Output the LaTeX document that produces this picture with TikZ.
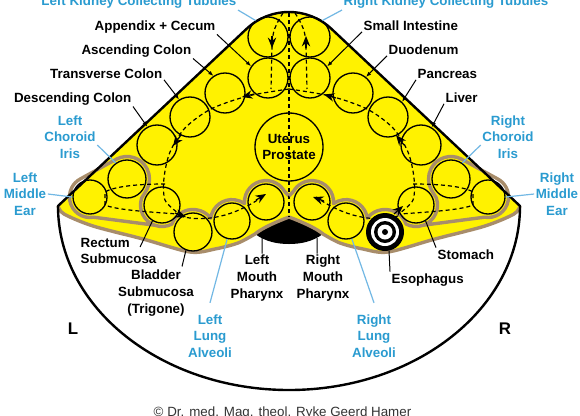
\documentclass[tikz,border=0pt]{standalone}
\usepackage{fontspec}
\setmainfont{Liberation Sans}
\usetikzlibrary{arrows.meta}
\definecolor{organyellow}{HTML}{FFF200}
\definecolor{ectotan}{HTML}{A88D6B}
\definecolor{tagblue}{HTML}{2A9BD0}
\definecolor{tagline}{HTML}{72B8E4}
\newcommand\ectochain{(154.65,225.2) -- (93.56,217.19) arc[start angle=80,end angle=243,radius=20.5]
 -- (116.79,158.95) arc[start angle=243,end angle=390,radius=22.5]
 -- (141.8,197.65) arc[start angle=200,end angle=62.6,radius=21.5]
 arc[start angle=200.5,end angle=322,radius=22.5]
 arc[start angle=188,end angle=305.5,radius=21.5]
 arc[start angle=176,end angle=330,radius=21.5] -- (289,196)}
\newcommand\gutline{(283,13) .. controls (276,24) and (272,32) .. (272,46) -- (271,89)
 plot[smooth] coordinates {(289,89) (248,96) (211,109) (185,128) (170,152) (164,178) (165,200) (178,213)}
 (165,184) .. controls (140,184) and (115,186) .. (105,192) -- (105,205) .. controls (116,210) and (150,212) .. (178,214)
 (180,216) .. controls (205,223) and (235,216) .. (262,197)}
\begin{document}
\begin{tikzpicture}[x=0.25mm,y=-0.25mm,
 organ/.style={circle,draw,line width=0.33mm,inner sep=0pt,minimum size=#1},
 ring/.style={circle,inner sep=0pt,minimum size=#1},
 tag/.style={font=\fontsize{9.5}{11.8}\selectfont\bfseries,inner sep=1pt},
 bluetag/.style={tag,text=tagblue,align=center},
 arr/.style={-{Latex[length=1.3mm,width=1mm]},line width=0.25mm},
 ptr/.style={line width=0.25mm},
 bptr/.style={draw=tagline,line width=0.3mm},
 ecto/.style={draw=ectotan,line width=0.85mm,line join=round},
 gut/.style={line width=0.3mm,dash pattern=on 1mm off 0.75mm},
 tip/.style={-{Stealth[length=2.6mm,width=2.1mm]},line width=0.3mm}]
\useasboundingbox (0,0) rectangle (580,415);
\fill[white] (0,0) rectangle (580,415);
\fill[organyellow] (58,206) -- (246.7,28.7) .. controls (270.5,6.4) and (307.5,6.4) .. (331.3,28.7) -- (520,206)
 -- plot[smooth] coordinates {(520,206) (514,214) (485,226) (435,239) (388,252) (363,249) (340,243) (323,234)}
 .. controls (316,228) and (302,222) .. (289,217) .. controls (276,222) and (262,228) .. (255,234)
 -- plot[smooth] coordinates {(255,234) (238,243) (215,249) (190,252) (143,239) (93,226) (64,214) (58,206)} -- cycle;
\fill (255,234) .. controls (262,228) and (276,222) .. (289,217) .. controls (302,222) and (316,228) .. (323,234)
 .. controls (312,242) and (300,244) .. (289,244) .. controls (278,244) and (266,242) .. (255,234) -- cycle;
\draw[ecto] plot[smooth] coordinates {(58,206) (64,214) (93,226) (143,239) (190,252) (215,249) (238,243) (255,234)}
 .. controls (262,228) and (276,222) .. (289,217) .. controls (302,222) and (316,228) .. (323,234)
 -- plot[smooth] coordinates {(323,234) (340,243) (363,249) (388,252) (435,239) (485,226) (514,214) (520,206)};
\draw[ecto] \ectochain;
\draw[gut] (289,13) -- (289,217);
\draw[gut] \gutline;
\begin{scope}[shift={(578,0)},xscale=-1]
\draw[ecto] \ectochain;
\draw[gut] \gutline;
\end{scope}
\node[organ=10mm] (ktl) at (268,37) {};
\node[organ=10mm] (ktr) at (310,37) {};
\node[organ=10mm] (app) at (268,78) {};
\node[organ=10mm] (sint) at (310,78) {};
\node[organ=10mm] (asc) at (225,93) {};
\node[organ=10mm] (duo) at (353,93) {};
\node[organ=10mm] (trans) at (190,117) {};
\node[organ=10mm] (panc) at (388,117) {};
\node[organ=10mm] (desc) at (157,145) {};
\node[organ=10mm] (liver) at (421,145) {};
\node[organ=17mm,tag,align=center] (uterus) at (289,147) {Uterus\\Prostate};
\node[organ=9.5mm] (lchor) at (127,179) {};
\node[organ=9.5mm] (rchor) at (451,179) {};
\node[organ=8.5mm] (lear) at (90,197) {};
\node[organ=8.5mm] (rear) at (488,197) {};
\node[organ=9mm] (rect) at (162,205) {};
\node[organ=9mm] (stom) at (416,205) {};
\node[organ=9.5mm] (blad) at (193,232) {};
\node[organ=9mm] (llung) at (232,221) {};
\node[organ=9mm] (rlung) at (346,221) {};
\node[organ=9mm] (lmouth) at (266,202) {};
\node[organ=9mm] (rmouth) at (312,202) {};
\node[ring=9.5mm,fill=black] (eso) at (385,232) {};
\node[ring=7mm,fill=white] (eso2) at (385,232) {};
\node[ring=5.5mm,fill=black] (eso3) at (385,232) {};
\node[ring=3.75mm,fill=white] (eso4) at (385,232) {};
\node[ring=1.5mm,fill=black] (eso5) at (385,232) {};
\draw[line width=0.6mm,line join=round] (58,206) -- (246.7,28.7) .. controls (270.5,6.4) and (307.5,6.4) .. (331.3,28.7) -- (520,206)
 arc[start angle=0,end angle=180,x radius=231,y radius=184] -- cycle;
\draw[tip] (272,36) -- (272,48);
\draw[tip] (306,48) -- (306,36);
\draw[tip] (254,94) -- (242,97);
\draw[tip] (336,98) -- (324,94.5);
\draw[tip] (181,135) -- (173,146);
\draw[tip] (404,145) -- (396,135);
\draw[tip] (175,213) -- (186,217);
\draw[tip] (394,214) -- (403,206);
\draw[tip] (256,200) -- (266,194);
\draw[tip] (324,201) -- (313,197);
\node[tag,anchor=base east] (lapp) at (217,30) {Appendix + Cecum};
\node[tag,anchor=base east] (lasc) at (193,54) {Ascending Colon};
\node[tag,anchor=base east] (ltrans) at (164,78) {Transverse Colon};
\node[tag,anchor=base east] (ldesc) at (133,102) {Descending Colon};
\node[tag,anchor=base west] (lsint) at (362,30) {Small Intestine};
\node[tag,anchor=base west] (lduo) at (387,54) {Duodenum};
\node[tag,anchor=base west] (lpanc) at (416,78) {Pancreas};
\node[tag,anchor=base west] (lliver) at (444,102) {Liver};
\node[bluetag,anchor=base east] (lkid) at (238,5.5) {Left Kidney Collecting Tubules};
\node[bluetag,anchor=base west] (rkid) at (342,5.5) {Right Kidney Collecting Tubules};
\node[bluetag] (lchori) at (70,137) {Left\\Choroid\\Iris};
\node[bluetag] (rchori) at (508,137) {Right\\Choroid\\Iris};
\node[bluetag] (lmidear) at (25,194) {Left\\Middle\\Ear};
\node[bluetag] (rmidear) at (557,194) {Right\\Middle\\Ear};
\node[bluetag] (llungl) at (210,336) {Left\\Lung\\Alveoli};
\node[bluetag] (rlungl) at (374,336) {Right\\Lung\\Alveoli};
\node[tag,align=left,anchor=west] (lrect) at (79,251) {Rectum\\Submucosa};
\node[tag,align=center] (lblad) at (156,293) {Bladder\\Submucosa\\(Trigone)};
\node[tag,align=center] (lpharynx) at (257,278) {Left\\Mouth\\Pharynx};
\node[tag,align=center] (rpharynx) at (323,278) {Right\\Mouth\\Pharynx};
\node[tag,anchor=base west] (lstom) at (436,259) {Stomach};
\node[tag,anchor=base west] (leso) at (390,283) {Esophagus};
\node[font=\fontsize{12}{14}\selectfont\bfseries] (lside) at (73,329) {L};
\node[font=\fontsize{12}{14}\selectfont\bfseries] (rside) at (505,329) {R};
\node[font=\fontsize{9.5}{11}\selectfont,text=black!80,anchor=base] (credit) at (282.5,416) {© Dr. med. Mag. theol. Ryke Geerd Hamer};
\coordinate (lgullet) at (262,238);
\coordinate (rgullet) at (317,238);
\draw[arr] (lapp.south east) -- (app.145);
\draw[arr] (lasc.south east) -- (asc.124);
\draw[arr] (ltrans.south east) -- (trans.122);
\draw[arr] (ldesc.south east) -- (desc.118);
\draw[arr] (lsint.south west) -- (sint.34);
\draw[arr] (lduo.south west) -- (duo.51);
\draw[arr] (lpanc.south west) -- (panc.47);
\draw[arr] (lliver.south west) -- (liver.59);
\draw[bptr] (lkid.south east) -- (ktl.127);
\draw[bptr] (rkid.south west) -- (ktr.53);
\draw[bptr] ([yshift=-2mm]lchori.east) -- (lchor.125);
\draw[bptr] ([yshift=-2mm]rchori.west) -- (rchor.55);
\draw[bptr] (lmidear.east) -- (lear.180);
\draw[bptr] (rmidear.west) -- (rear.0);
\draw[bptr] ([yshift=2.5mm]llungl.north) -- (llung.-105);
\draw[bptr] ([yshift=2.5mm]rlungl.north) -- (rlung.-72);
\draw[ptr] ([xshift=-4.5mm,yshift=1mm]lrect.east) -- (rect.-121);
\draw[ptr] ([xshift=6.5mm,yshift=0.5mm]lblad.north) -- (blad.-111);
\draw[ptr] ([xshift=1.25mm]lpharynx.north) -- (lgullet);
\draw[ptr] ([xshift=-1.5mm]rpharynx.north) -- (rgullet);
\draw[ptr] (lstom.north west) -- (stom.-59);
\draw[ptr] (leso.north west) -- (eso.-78);
\end{tikzpicture}
\end{document}
